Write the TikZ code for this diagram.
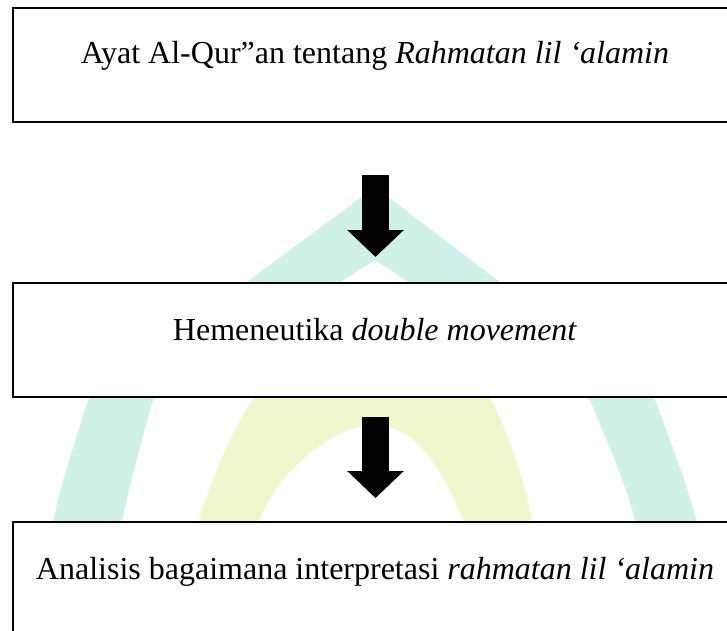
\documentclass[tikz,border=0pt]{standalone}
\usepackage{fontspec}
\setmainfont{Liberation Serif}
\usetikzlibrary{arrows.meta}
\definecolor{wmteal}{HTML}{CFF1EA}
\definecolor{wmyellow}{HTML}{EFF8CC}
\tikzset{
  stagebox/.style={draw, line width=2pt, fill=white, anchor=north west, minimum width=726pt, inner sep=0pt},
  stagetext/.style={font=\fontsize{32}{38}\selectfont, anchor=base, inner sep=0pt},
  downarrow/.style={line width=27pt, -{Triangle[length=27pt, width=55pt]}},
}
\begin{document}
\begin{tikzpicture}[x=1pt, y=-1pt]
\useasboundingbox (0,0) rectangle (727,630);

% watermark
\fill [wmteal] (40,640) .. controls (50,520) .. (88,400) -- (375,187) -- (655,400) .. controls (700,520) .. (712,640)
  -- (648,640) .. controls (640,520) .. (590,400) -- (375,260) -- (153,400) .. controls (120,520) .. (105,640) -- cycle;
\fill [wmyellow] (170,640) -- (199,520) .. controls (240,390) and (300,320) .. (375,320) .. controls (450,320) and (505,390) .. (532,520) -- (560,640)
  -- (505,640) -- (463,520) .. controls (440,460) and (410,425) .. (375,425) .. controls (340,425) and (285,460) .. (259,520) -- (225,640) -- cycle;

\node [stagebox, minimum height=114pt] (box1) at (12,7) {};
\node [stagebox, minimum height=114pt] (box2) at (12,282) {};
\node [stagebox, minimum height=130pt] (box3) at (12,521) {};

\node [stagetext] (txt1) at (375,63) {Ayat Al-Qur''an tentang \textit{Rahmatan lil `alamin}};
\node [stagetext] (txt2) at (375,340) {Hemeneutika \textit{double movement}};
\node [stagetext] (txt3) at (375,579) {Analisis bagaimana interpretasi \textit{rahmatan lil `alamin}};

\coordinate (a1top) at (375.5,175);
\coordinate (a1tip) at (375.5,257);
\coordinate (a2top) at (375.5,417);
\coordinate (a2tip) at (375.5,498);
\draw [downarrow] (a1top) -- (a1tip);
\draw [downarrow] (a2top) -- (a2tip);

\end{tikzpicture}
\end{document}
